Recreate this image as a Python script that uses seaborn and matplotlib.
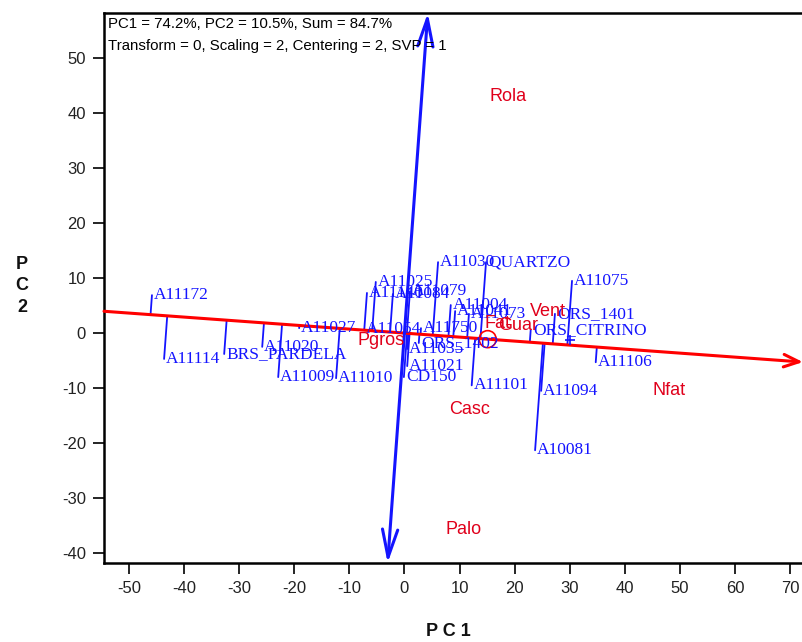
import numpy as np
import pandas as pd
import matplotlib
matplotlib.use("Agg")
import matplotlib.pyplot as plt
import seaborn as sns

# Genotype scores on the first two principal components
genotypes = ["A11172", "A11114", "BRS_PARDELA", "A11020", "A11009", "A11027", "A11010",
             "A11140", "A11025", "A11054", "A11084", "A11079", "A11750", "A11030",
             "QUARTZO", "ORS_1402", "A11035", "A11021", "CD150", "A11101", "A11004",
             "A11041", "A11073", "ORS_CITRINO", "ORS_1401", "A11075", "A11106",
             "A11094", "A10081"]
gen_pc1 = [-45.8, -43.6, -32.7, -25.8, -22.9, -19.1, -12.4, -6.8, -5.2, -7.3, -2.1, 1.0,
           3.0, 6.1, 14.8, 2.6, 0.5, 0.5, -0.1, 12.2, 8.4, 9.2, 11.7, 22.9, 27.3, 30.4,
           34.7, 24.8, 23.7]
gen_pc2 = [6.9, -4.7, -3.8, -2.5, -8.0, 0.9, -8.2, 7.3, 9.3, 0.7, 7.1, 7.6, 0.9, 12.9,
           12.9, -1.8, -2.9, -6.0, -8.0, -9.5, 5.1, 4.0, 3.5, 0.5, 3.5, 9.5, -5.3,
           -10.5, -21.3]

# Trait (tester) scores
traits = ["Rola", "Palo", "Casc", "Nfat", "Pgros", "Fat", "Guar", "Vent"]
trait_pc1 = [18.8, 10.8, 11.9, 48.0, -4.3, 16.8, 20.6, 26.0]
trait_pc2 = [43.1, -35.8, -13.8, -10.5, -1.3, 1.8, 1.3, 4.0]

# Average tester coordinate and the marked point on the average axis
avg_tester = [15.1, -1.1]
ideal_mark = [30.0, -1.3]

header_lines = ["PC1 = 74.2%, PC2 = 10.5%, Sum = 84.7%",
                "Transform = 0, Scaling = 2, Centering = 2, SVP = 1"]

XLIM = (-54.5, 72.3)
YLIM = (-41.8, 58.2)

sns.set_theme(style="ticks")
plt.rcParams["font.family"] = ["Liberation Sans", "DejaVu Sans"]
plt.rcParams["axes.unicode_minus"] = False

BLUE = "#1414ff"
RED = "#e0001b"

fig = plt.figure(figsize=(8.03, 6.42), dpi=100)
ax = fig.add_axes([104 / 803, 79 / 642, 1 - 104 / 803, 550 / 642])
ax.set_xlim(*XLIM)
ax.set_ylim(*YLIM)

gen = pd.DataFrame({"name": genotypes, "pc1": gen_pc1, "pc2": gen_pc2})
trt = pd.DataFrame({"name": traits, "pc1": trait_pc1, "pc2": trait_pc2})

# Unit vector of the average-tester axis and its perpendicular
u = np.array(avg_tester) / np.linalg.norm(avg_tester)
v = np.array([-u[1], u[0]])
if v[1] < 0:
    v = -v

# Projections of each genotype onto the average-tester axis
pts = gen[["pc1", "pc2"]].to_numpy()
feet = np.outer(pts @ u, u)
seg = pd.DataFrame({
    "g": np.repeat(np.arange(len(gen)), 2),
    "x": np.column_stack([pts[:, 0], feet[:, 0]]).ravel(),
    "y": np.column_stack([pts[:, 1], feet[:, 1]]).ravel(),
})
sns.lineplot(data=seg, x="x", y="y", units="g", estimator=None, sort=False,
             color=BLUE, lw=1.3, ax=ax, legend=False)

# Axis of average tester (abscissa) across the plot, arrow towards the average
t0 = XLIM[0] / u[0]
t1 = XLIM[1] / u[0]
ax.annotate("", xy=tuple(u * t1), xytext=tuple(u * t0),
            arrowprops=dict(arrowstyle="->,head_length=11,head_width=4.5",
                            mutation_scale=1, color="red", lw=2.2,
                            shrinkA=0, shrinkB=0), annotation_clip=False)

# Perpendicular axis through the origin, arrows at both ends
s0 = YLIM[0] / v[1]
s1 = YLIM[1] / v[1]
ax.annotate("", xy=tuple(v * s1), xytext=tuple(v * s0),
            arrowprops=dict(arrowstyle="<->,head_length=20,head_width=5.5",
                            mutation_scale=1, color=BLUE, lw=2.2,
                            shrinkA=0, shrinkB=0), annotation_clip=False)

# Average tester circle and marker
sns.scatterplot(x=[avg_tester[0]], y=[avg_tester[1]], marker="o", s=150,
                facecolor="none", edgecolor="red", linewidth=1.2, ax=ax, zorder=5)
sns.scatterplot(x=[ideal_mark[0]], y=[ideal_mark[1]], marker="+", s=60,
                color=BLUE, linewidth=1.2, ax=ax, zorder=5)

# Genotype labels
for _, r in gen.iterrows():
    ax.annotate(r["name"], (r["pc1"], r["pc2"]), xytext=(1.5, 0),
                textcoords="offset points", ha="left", va="center",
                color=BLUE, fontsize=12.5, family=["Liberation Serif", "DejaVu Serif"],
                zorder=6)

# Trait labels
for _, r in trt.iterrows():
    ax.text(r["pc1"], r["pc2"], r["name"], ha="center", va="center",
            color=RED, fontsize=13, zorder=6)

# Header
ax.text(0.006, 0.980, header_lines[0], transform=ax.transAxes, ha="left",
        va="center", fontsize=10.8, color="black")
ax.text(0.006, 0.940, header_lines[1], transform=ax.transAxes, ha="left",
        va="center", fontsize=10.8, color="black")

ax.set_xticks(np.arange(-50, 71, 10))
ax.set_yticks(np.arange(-40, 51, 10))
ax.tick_params(axis="both", direction="out", length=8, width=1.2, color="black",
               labelsize=12, labelcolor="#222222", pad=5)
for side in ["left", "bottom", "top"]:
    ax.spines[side].set_linewidth(1.8)
    ax.spines[side].set_color("black")
ax.spines["right"].set_visible(False)
ax.set_xlabel("")
ax.set_ylabel("")

fig.text(448 / 803, 10 / 642, "P C 1", ha="center", va="center",
         fontsize=13, fontweight="bold", color="#111111")
fig.text(22 / 803, 1 - 286 / 642, "P\nC\n2", ha="center", va="center",
         fontsize=13, fontweight="bold", color="#111111", linespacing=1.35)

fig.savefig("out.png", dpi=100)
